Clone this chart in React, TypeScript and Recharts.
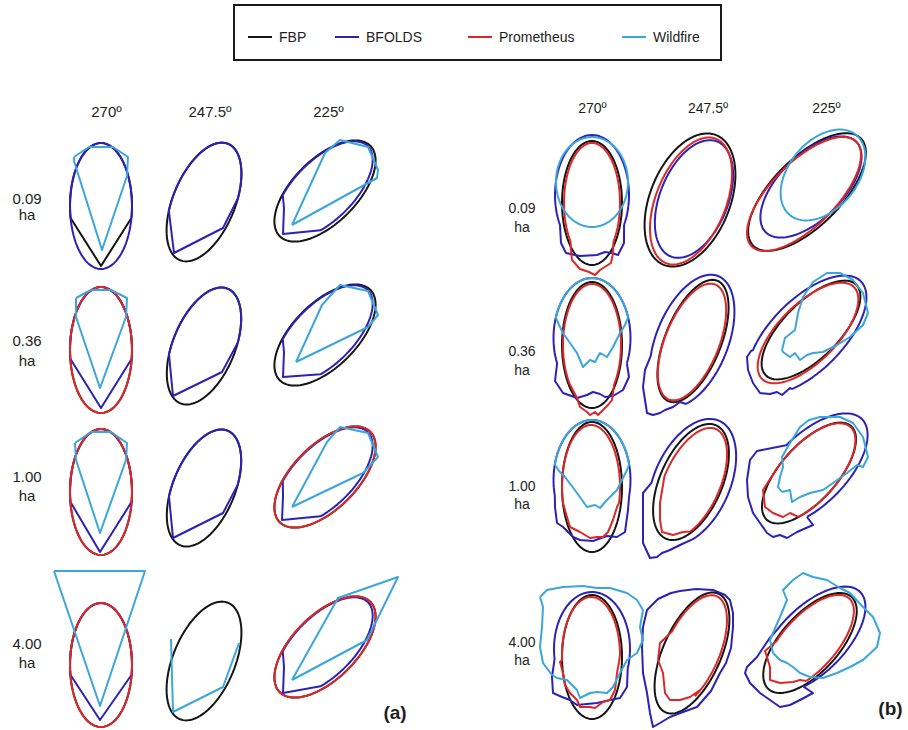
import { Scatter, ScatterChart, XAxis, YAxis } from "recharts";

// e = [dx, dy, semi-major, semi-minor, tilt°] relative to the cell centre,
// arc = kept part of the ellipse (parametric degrees, 90 = head),
// pts = extra vertices (cell units) that close the outline, open = leave it unclosed.
type Shape = { row: number; col: number; e?: number[]; arc?: number[]; pts?: number[][]; open?: boolean };

const directions = ["270º", "247.5º", "225º"];
const sizes = ["0.09", "0.36", "1.00", "4.00"];
const models = ["FBP", "BFOLDS", "Prometheus", "Wildfire"];

// ---- panel (a) ----
const fbpA: Shape[] = [
  { row: 0, col: 0, e: [0, 0, 63, 31, 0], arc: [-11, 191], pts: [[0, 60]] },
  { row: 0, col: 1, e: [0, 0, 63, 31, 22.5] },
  { row: 0, col: 2, e: [0, 0, 64, 32, 45] },
  { row: 1, col: 0, e: [0, 0, 63, 31, 0] },
  { row: 1, col: 1, e: [0, 0, 62, 31, 22.5] },
  { row: 1, col: 2, e: [0, 0, 64, 32, 45] },
  { row: 2, col: 0, e: [0, 0, 63, 31, 0] },
  { row: 2, col: 1, e: [0, 0, 62, 31, 22.5] },
  { row: 2, col: 2, e: [0, 0, 64, 32, 45] },
  { row: 3, col: 0, e: [0, 0, 62, 31, 0] },
  { row: 3, col: 1, e: [0, 0, 63, 31, 22.5] },
  { row: 3, col: 2, e: [0, -3, 64, 32, 45] },
];

const bfoldsA: Shape[] = [
  { row: 0, col: 0, e: [0, 0, 63, 31, 0] },
  { row: 0, col: 1, e: [0, 0, 63, 31, 22.5], arc: [15, 200], pts: [[-30, 51], [19, 26]] },
  { row: 0, col: 2, e: [-1, -1, 62, 30, 45], arc: [-30, 212], pts: [[-41, 17], [-42, 43]] },
  { row: 1, col: 0, e: [0, 0, 63, 31, 0], arc: [-8, 188], pts: [[0, 58]] },
  { row: 1, col: 1, e: [0, 0, 62, 31, 22.5], arc: [15, 200], pts: [[-31, 50], [18, 26]] },
  { row: 1, col: 2, e: [-1, -1, 62, 30, 45], arc: [-30, 212], pts: [[-41, 17], [-42, 42]] },
  { row: 2, col: 0, e: [0, 0, 63, 31, 0], arc: [-9, 189], pts: [[-1, 60]] },
  { row: 2, col: 1, e: [0, 0, 62, 31, 22.5], arc: [15, 200], pts: [[-31, 50], [19, 25]] },
  { row: 2, col: 2, e: [-1, -1, 62, 30, 45], arc: [-30, 212], pts: [[-42, 20], [-43, 43]] },
  { row: 3, col: 0, e: [0, 0, 62, 31, 0], arc: [-9, 189], pts: [[-1, 55]] },
  { row: 3, col: 2, e: [-1, -4, 62, 30, 45], arc: [-30, 212], pts: [[-41, 17], [-42, 43]] },
];

const prometheusA: Shape[] = [
  { row: 1, col: 0, e: [0, 0, 63, 31, 0] },
  { row: 2, col: 0, e: [0, 0, 63, 31, 0] },
  { row: 2, col: 2, e: [0, 0, 64, 32, 45] },
  { row: 3, col: 0, e: [0, 0, 62, 31, 0] },
  { row: 3, col: 2, e: [0, -3, 64, 32, 45] },
];

const wildfireA: Shape[] = [
  { row: 0, col: 0, pts: [[-27, -49], [-12, -59], [12, -59], [27, -49], [26, -30], [1, 44], [-27, -45]] },
  { row: 0, col: 2, pts: [[-33, 34], [0, -38], [15, -51], [43, -44], [53, -21], [52, -13]] },
  { row: 1, col: 0, pts: [[-25, -52], [-10, -60], [10, -60], [26, -52], [25, -33], [-1, 38], [-25, -33]] },
  { row: 1, col: 2, pts: [[-29, 27], [-3, -30], [15, -50], [43, -44], [53, -20], [43, -8]] },
  { row: 2, col: 0, pts: [[-26, -49], [-10, -60], [10, -60], [26, -49], [25, -32], [-1, 41], [-25, -32]] },
  { row: 2, col: 2, pts: [[-33, 30], [2, -35], [15, -50], [43, -44], [53, -20], [38, -4]] },
  { row: 3, col: 0, pts: [[-47, -94], [44, -94], [-1, 41]] },
  { row: 3, col: 1, pts: [[-33, -22], [-31, 51], [19, 26], [35, -18]], open: true },
  { row: 3, col: 2, pts: [[-33, 30], [13, -52], [73, -73], [42, -10]] },
];

// ---- panel (b) ----
const fbpB: Shape[] = [
  { row: 0, col: 0, e: [0, 0, 62, 30, 0] },
  { row: 0, col: 1, e: [-1, 1, 70, 40, 22] },
  { row: 0, col: 2, e: [-2, 3, 76, 34, 45] },
  { row: 1, col: 0, e: [0, 0, 63, 30, 0] },
  { row: 1, col: 1, e: [2, 0, 65, 28, 22] },
  { row: 1, col: 2, e: [2, -1, 64, 28, 45] },
  { row: 2, col: 0, e: [0, 0, 65, 30, 0] },
  { row: 2, col: 1, e: [0, -1, 62, 31, 24] },
  { row: 2, col: 2, e: [0, 0, 63, 28, 42] },
  { row: 3, col: 0, e: [0, 0, 62, 30, 0] },
  { row: 3, col: 1, e: [1, 0, 65, 29, 24] },
  { row: 3, col: 2, e: [1, 0, 62, 29, 42] },
];

const bfoldsB: Shape[] = [
  { row: 0, col: 0, e: [0, -8, 60, 37, 0], arc: [-30, 210], pts: [[-31, 40], [-26, 50], [-12, 53], [5, 52], [13, 49], [20, 50], [26, 52], [32, 40]] },
  { row: 0, col: 1, e: [3, 0, 62, 34, 22] },
  { row: 0, col: 2, e: [2, -2, 64, 32, 45] },
  { row: 1, col: 0, e: [0, -7, 60, 38.5, 0], arc: [-25, 205], pts: [[-37, 36], [-29, 48], [-15, 53], [-5, 50], [1, 47], [8, 49], [13, 52], [21, 51], [31, 45], [37, 32]] },
  { row: 1, col: 1, e: [1, 0, 70, 36, 22], arc: [-60, 205], pts: [[-46, 29], [-48, 46], [-46, 59], [-44, 72], [-38, 74], [-31, 72], [-26, 69], [-18, 66], [-11, 61]] },
  { row: 1, col: 2, e: [-2, 4, 76, 36, 45], arc: [-40, 220], pts: [[-58, 20], [-62, 26], [-61, 39], [-56, 52], [-49, 62], [-39, 63], [-32, 61], [-27, 64], [-19, 57]] },
  { row: 2, col: 0, e: [0, -7, 60, 38.5, 0], arc: [-15, 195], pts: [[-37, 20], [-35, 36], [-29, 40], [-19, 50], [-12, 53], [1, 54], [15, 49], [25, 50], [33, 45], [36, 23]] },
  { row: 2, col: 1, e: [1, -1, 67, 38, 24], arc: [-50, 195], pts: [[-48, 10], [-48, 35], [-48, 60], [-41, 75], [-34, 74], [-29, 70], [-21, 67], [-11, 62]] },
  { row: 2, col: 2, e: [2, -3, 72, 35, 45], arc: [-30, 180], pts: [[-52, -22], [-59, -13], [-62, 7], [-61, 24], [-56, 40], [-49, 50], [-42, 60], [-36, 64], [-29, 62], [-22, 65], [-12, 59], [4, 52]] },
  { row: 3, col: 0, e: [0, -8, 57, 38, 0], arc: [-20, 190], pts: [[-40, 20], [-39, 36], [-30, 40], [-22, 43], [-15, 48], [5, 46], [18, 43], [28, 41], [35, 30]] },
  { row: 3, col: 1, pts: [[5, -64], [22, -63], [34, -58], [39, -53], [42, -40], [42, -26], [40, -5], [35, 10], [29, 20], [20, 38], [6, 54], [-8, 59], [-21, 64], [-31, 70], [-38, 74], [-41, 60], [-44, 40], [-48, 20], [-49, -6], [-48, -26], [-44, -43], [-33, -54], [-20, -60], [-11, -62]] },
  { row: 3, col: 2, e: [3, -3, 68, 33, 45], arc: [-35, 195], pts: [[-40, -4], [-52, 14], [-62, 24], [-64, 30], [-59, 40], [-49, 50], [-39, 57], [-29, 64], [-19, 62], [-9, 57], [4, 50]] },
];

const prometheusB: Shape[] = [
  { row: 0, col: 0, e: [0, 0, 60, 28, 0], arc: [-40, 220], pts: [[-21, 48], [-20, 57], [-12, 66], [-3, 69], [3, 72], [8, 67], [19, 60], [21, 50]] },
  { row: 0, col: 1, e: [0, 2, 67, 35, 22] },
  { row: 0, col: 2, e: [-5, 5, 74, 32, 45] },
  { row: 1, col: 0, e: [0, 0, 61, 29, 0], arc: [-40, 220], pts: [[-15, 53], [-12, 62], [-5, 67], [-2, 70], [3, 67], [6, 70], [11, 65], [16, 60], [20, 55]] },
  { row: 1, col: 1, e: [1, 1, 62, 27, 22] },
  { row: 1, col: 2, e: [-1, 2, 65, 29, 45] },
  { row: 2, col: 0, e: [-1, 0, 62, 29, 0], arc: [-15, 195], pts: [[-25, 30], [-22, 40], [-12, 45], [-2, 51], [5, 50], [11, 50], [16, 45], [21, 33], [25, 20]] },
  { row: 2, col: 1, e: [1, 0, 59, 28, 24], arc: [-50, 185], pts: [[-31, 20], [-31, 37], [-29, 49], [-18, 52], [-8, 49]] },
  { row: 2, col: 2, e: [0, 0, 62, 28, 42], arc: [-40, 200], pts: [[-46, 17], [-44, 34], [-36, 40], [-26, 44], [-19, 40]] },
  { row: 3, col: 0, e: [-1, -2, 58, 29, 0], arc: [0, 185], pts: [[-32, 5], [-29, 16], [-27, 28], [-22, 36], [-15, 43], [-12, 50], [-2, 50], [3, 51], [11, 45], [18, 43], [23, 33], [25, 16], [27, 5]] },
  { row: 3, col: 1, e: [1, -1, 61, 27, 24], arc: [-40, 170], pts: [[-31, -10], [-33, 7], [-28, 20], [-26, 40], [-21, 47], [-11, 47], [-1, 44], [9, 37]] },
  { row: 3, col: 2, e: [0, 0, 60, 27, 42], arc: [-30, 200], pts: [[-44, 8], [-42, 14], [-39, 24], [-39, 37], [-29, 40], [-16, 39], [-9, 37]] },
];

const wildfireB: Shape[] = [
  { row: 0, col: 0, e: [0, -21, 45, 36, 0] },
  { row: 0, col: 2, e: [14, -14, 52, 34, 40] },
  { row: 1, col: 0, e: [0, -7, 60, 38.5, 0], arc: [20, 160], pts: [[-33, -20], [-29, -12], [-15, 8], [-9, 22], [-2, 15], [3, 17], [8, 8], [15, 12], [21, 2], [28, -12], [33, -20]] },
  { row: 1, col: 2, pts: [[-27, 19], [-24, 7], [-14, -1], [-11, -18], [-6, -34], [4, -49], [18, -58], [31, -58], [44, -51], [54, -38], [59, -18], [54, -6], [41, 6], [28, 14], [14, 21], [4, 22], [-2, 24], [-9, 29], [-14, 22], [-19, 26], [-26, 21]] },
  { row: 2, col: 0, e: [0, -7, 60, 38.5, 0], arc: [15, 165], pts: [[-33, -16], [-27, -10], [-15, 6], [-5, 20], [3, 18], [8, 21], [15, 13], [25, 3], [30, -7], [35, -17]] },
  { row: 2, col: 2, pts: [[-27, 19], [-31, 14], [-29, 4], [-26, -6], [-27, -16], [-19, -30], [-9, -46], [0, -53], [11, -56], [31, -56], [44, -50], [54, -36], [59, -16], [54, -6], [48, -8], [38, 0], [24, 10], [14, 17], [1, 20], [-9, 24], [-17, 29], [-19, 17]] },
  { row: 3, col: 0, pts: [[-52, -60], [-49, -50], [-50, -30], [-52, -10], [-49, 6], [-40, 18], [-35, 21], [-25, 23], [-15, 33], [-12, 41], [-2, 36], [5, 35], [15, 36], [21, 30], [28, 16], [35, 3], [45, -4], [51, -17], [48, -30], [51, -47], [45, -57], [35, -64], [18, -69], [5, -69], [-9, -71], [-29, -70], [-45, -67]] },
  { row: 3, col: 2, pts: [[-36, 10], [-39, -3], [-36, -10], [-29, -26], [-22, -43], [-26, -53], [-16, -63], [-6, -70], [4, -66], [18, -63], [31, -55], [41, -50], [54, -36], [64, -26], [71, -10], [68, 4], [54, 17], [41, 24], [28, 30], [14, 35], [1, 34], [-9, 30], [-16, 24], [-22, 20], [-29, 17]] },
];

const colors: Record<string, string> = {
  FBP: "#151515",
  BFOLDS: "#2c22b6",
  Prometheus: "#dc2828",
  Wildfire: "#3aa6dc",
};

const W = 908;
const H = 730;
const FONT = "'Liberation Sans', Arial, sans-serif";

// cell grid of each panel (chart units == px)
const panels = [
  {
    tag: "(a)",
    colX: [101, 204, 325],
    rowY: [206, 350, 492, 665],
    colDy: [0, -4, -15],
    shapes: [fbpA, bfoldsA, prometheusA, wildfireA],
    head: { xs: [106.5, 210, 328.5], y: 110.5, size: 15 },
    side: { x: 27, ys: [[197.5, 214], [340, 360], [475.5, 494.5], [642.5, 662]], size: 15 },
    tagPos: [395, 712],
  },
  {
    tag: "(b)",
    colX: [592, 691, 809],
    rowY: [203, 345, 487, 657],
    colDy: [0, -4, -14],
    shapes: [fbpB, bfoldsB, prometheusB, wildfireB],
    head: { xs: [592.5, 708, 826.5], y: 107.5, size: 14 },
    side: { x: 522, ys: [[208, 227], [351, 369.5], [486, 504], [642, 660]], size: 14 },
    tagPos: [890.5, 708],
  },
];

const rad = Math.PI / 180;

function outline(s: Shape, cx: number, cy: number) {
  const out: { x: number; y: number }[] = [];
  if (s.e) {
    const [dx, dy, a, b, tilt] = s.e;
    const [t0, t1] = s.arc ?? [0, 360];
    const n = Math.max(2, Math.round(Math.abs(t1 - t0) / 4));
    const cr = Math.cos(tilt * rad);
    const sr = Math.sin(tilt * rad);
    for (let i = 0; i <= n; i++) {
      const t = (t0 + ((t1 - t0) * i) / n) * rad;
      const u = b * Math.cos(t);
      const v = -a * Math.sin(t);
      out.push({ x: cx + dx + u * cr - v * sr, y: cy + dy + u * sr + v * cr });
    }
  }
  for (const [px, py] of s.pts ?? []) out.push({ x: cx + px, y: cy + py });
  if (!s.open) out.push({ ...out[0] });
  return out;
}

const series = panels.flatMap((p, pi) =>
  models.flatMap((m, mi) =>
    p.shapes[mi].map((s, si) => ({
      key: `${pi}-${m}-${si}`,
      color: colors[m],
      data: outline(s, p.colX[s.col], p.rowY[s.row] + p.colDy[s.col]),
    })),
  ),
);

const Blank = () => <g />;

function Label({ x, y, size, bold, children }: { x: number; y: number; size: number; bold?: boolean; children: React.ReactNode }) {
  return (
    <div
      style={{
        position: "absolute",
        left: x,
        top: y,
        transform: "translate(-50%, -50%)",
        fontSize: size,
        lineHeight: 1,
        fontWeight: bold ? 700 : 400,
        color: "#1e1e1e",
        whiteSpace: "nowrap",
      }}
    >
      {children}
    </div>
  );
}

const legendX = [248, 335, 468, 622];

export default function App() {
  return (
    <div style={{ position: "absolute", left: 0, top: 0, width: W, height: H, background: "#fff", fontFamily: FONT }}>
      <ScatterChart width={W} height={H} margin={{ top: 0, right: 0, bottom: 0, left: 0 }}>
        <XAxis type="number" dataKey="x" domain={[0, W]} hide allowDataOverflow />
        <YAxis type="number" dataKey="y" domain={[0, H]} reversed hide allowDataOverflow />
        {series.map((s) => (
          <Scatter
            key={s.key}
            data={s.data}
            fill={s.color}
            line={{ strokeWidth: 2, strokeLinejoin: "round" }}
            lineType="joint"
            shape={Blank}
            isAnimationActive={false}
          />
        ))}
      </ScatterChart>

      <div
        style={{
          position: "absolute",
          left: 233,
          top: 4,
          width: 485,
          height: 53,
          border: "2px solid #1a1a1a",
        }}
      >
        {models.map((m, i) => (
          <div key={m} style={{ position: "absolute", left: legendX[i] - 235, top: 24, display: "flex", alignItems: "center" }}>
            <span style={{ display: "inline-block", width: 24, height: 2, background: colors[m], marginRight: 7 }} />
            <span style={{ fontSize: 14, color: "#1e1e1e", lineHeight: 1 }}>{m}</span>
          </div>
        ))}
      </div>

      {panels.map((p) => (
        <div key={p.tag}>
          {directions.map((d, i) => (
            <Label key={d} x={p.head.xs[i]} y={p.head.y} size={p.head.size}>
              {d}
            </Label>
          ))}
          {sizes.map((s, i) => (
            <div key={s}>
              <Label x={p.side.x} y={p.side.ys[i][0]} size={p.side.size}>
                {s}
              </Label>
              <Label x={p.side.x} y={p.side.ys[i][1]} size={p.side.size}>
                ha
              </Label>
            </div>
          ))}
          <Label x={p.tagPos[0]} y={p.tagPos[1]} size={19} bold>
            {p.tag}
          </Label>
        </div>
      ))}
    </div>
  );
}
